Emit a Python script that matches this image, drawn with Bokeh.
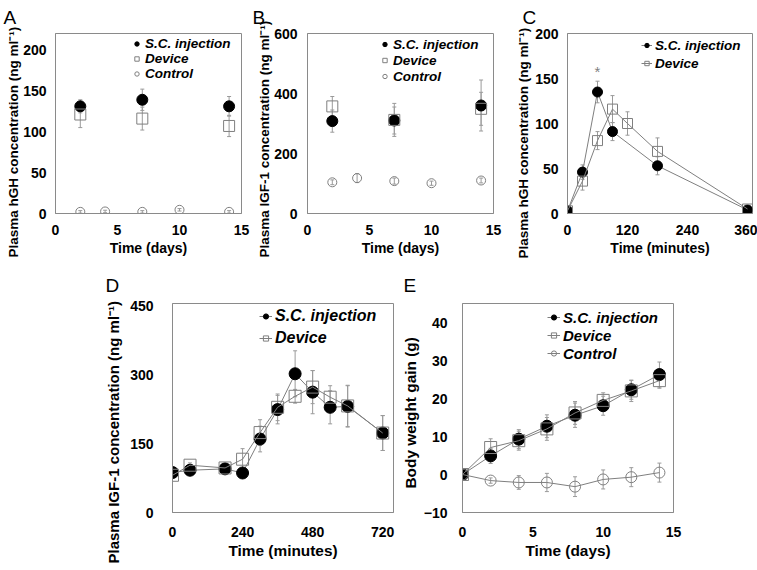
from bokeh.plotting import figure
from bokeh.models import (Range1d, FixedTicker, Legend, LegendItem, Whisker, TeeHead,
                          ColumnDataSource, Title)
from bokeh.layouts import column, row
from bokeh.embed import file_html
from bokeh.resources import INLINE
from bokeh.core.properties import value

FONT = "Liberation Sans"
GRAY = "#7f7f7f"
ERR = "#9a9a9a"
FRAME = "#8a8a8a"

# ---------------- data ----------------
series_names = ["S.C. injection", "Device", "Control"]

# Panel A: plasma hGH, days
a_sc_x = [2, 7, 14]
a_sc_y = [131, 139, 131]
a_sc_err = [8, 13, 12]
a_dev_x = [2, 7, 14]
a_dev_y = [121, 116, 107]
a_dev_err = [16, 14, 13]
a_ctl_x = [2, 4, 7, 10, 14]
a_ctl_y = [2, 2.5, 2, 4.5, 2]
a_ctl_err = [1.5, 1.5, 1.5, 1.5, 1.5]

# Panel B: plasma IGF-1, days
b_sc_x = [2, 7, 14]
b_sc_y = [308, 310, 360]
b_sc_err = [37, 45, 85]
b_dev_x = [2, 7, 14]
b_dev_y = [357, 312, 349]
b_dev_err = [33, 55, 55]
b_ctl_x = [2, 4, 7, 10, 14]
b_ctl_y = [104, 118, 108, 101, 110]
b_ctl_err = [8, 15, 10, 7, 8]

# Panel C: plasma hGH, minutes
c_sc_x = [0, 30, 60, 90, 180, 360]
c_sc_y = [3, 46, 135, 91, 53, 4]
c_sc_err = [2, 8, 12, 10, 10, 3]
c_dev_x = [0, 30, 60, 90, 120, 180, 360]
c_dev_y = [3, 36, 81, 116, 100, 69, 5]
c_dev_err = [2, 10, 10, 15, 13, 15, 3]
c_star_x = [60]
c_star_y = [158]
c_star_text = ["*"]

# Panel D: plasma IGF-1, minutes
d_x = [0, 60, 180, 240, 300, 360, 420, 480, 540, 600, 720]
d_sc_y = [87, 92, 95, 86, 160, 224, 302, 262, 229, 231, 173]
d_sc_err = [5, 8, 8, 5, 28, 31, 50, 47, 36, 45, 38]
d_dev_y = [81, 103, 97, 116, 174, 229, 253, 273, 251, 232, 173]
d_dev_err = [5, 5, 7, 23, 28, 29, 15, 36, 25, 45, 38]

# Panel E: body weight gain, days
e_x = [0, 2, 4, 6, 8, 10, 12, 14]
e_sc_y = [0, 4.9, 9.3, 12.7, 15.6, 18.1, 22.3, 26.3]
e_sc_err = [0.5, 2, 2.5, 3, 3.2, 2.5, 2.5, 3.3]
e_dev_y = [0, 7.1, 8.9, 12.0, 16.2, 19.5, 22.0, 24.7]
e_dev_err = [0.5, 2.3, 2.5, 3, 3, 2, 2.8, 2]
e_ctl_y = [0, -1.6, -2.1, -2.1, -3.2, -1.3, -0.7, 0.5]
e_ctl_err = [0.5, 0.7, 1.8, 2.4, 2.6, 2.5, 2.5, 2.5]


def make_fig(w, h, bl, br, bt, bb, xr, yr, xt, yt, letter, loff, lst,
             tick_px, xlab_px, ylab_px, xlab, ylab, ytick_st, xtick_st, xlab_st, ylab_off, ylab_st):
    p = figure(width=w, height=h, x_range=Range1d(*xr), y_range=Range1d(*yr),
               output_backend="svg", toolbar_location=None,
               min_border_left=bl, min_border_right=br,
               min_border_top=bt, min_border_bottom=bb)
    p.title.text = letter
    p.title.text_font = FONT
    p.title.text_font_size = "19px"
    p.title.text_font_style = "normal"
    p.title.text_color = "#000000"
    p.title.align = "left"
    p.title.vertical_align = "top"
    p.title.offset = loff
    p.title.standoff = lst
    p.outline_line_color = FRAME
    p.outline_line_width = 1
    p.grid.visible = False
    p.background_fill_color = "white"
    p.border_fill_color = "white"
    for ax, ticks, tst in ((p.xaxis[0], xt, xtick_st), (p.yaxis[0], yt, ytick_st)):
        ax.ticker = FixedTicker(ticks=ticks)
        ax.major_tick_in = 0
        ax.major_tick_out = 0
        ax.minor_tick_line_color = None
        ax.axis_line_color = FRAME
        ax.major_label_text_font = FONT
        ax.major_label_text_font_style = "bold"
        ax.major_label_text_font_size = tick_px
        ax.major_label_text_color = "#000000"
        ax.major_label_standoff = tst
    xa = p.xaxis[0]
    xa.axis_label = xlab
    xa.axis_label_text_font = FONT
    xa.axis_label_text_font_style = "bold"
    xa.axis_label_text_font_size = xlab_px
    xa.axis_label_text_color = "#000000"
    xa.axis_label_standoff = xlab_st
    p.yaxis[0].major_label_orientation = "horizontal"
    # y-axis title: a side title, shifted along the axis like the original
    yt_title = Title(text=ylab, align="left", offset=ylab_off, standoff=ylab_st,
                     text_font=FONT, text_font_style="bold", text_font_size=ylab_px,
                     text_color="#000000")
    p.add_layout(yt_title, "left")
    return p


def errbars(p, xs, ys, errs, head=4):
    src = ColumnDataSource(dict(x=xs, up=[y + e for y, e in zip(ys, errs)],
                                lo=[y - e for y, e in zip(ys, errs)]))
    w = Whisker(source=src, base="x", upper="up", lower="lo",
                line_color=ERR, line_width=1,
                upper_head=TeeHead(size=head, line_color=ERR, line_width=1),
                lower_head=TeeHead(size=head, line_color=ERR, line_width=1))
    p.add_layout(w)


def add_series(p, xs, ys, errs, kind, size, with_line):
    errbars(p, xs, ys, errs)
    rs = []
    if with_line:
        rs.append(p.line(xs, ys, line_color=GRAY, line_width=1))
    if kind == "sc":
        rs.append(p.scatter(xs, ys, marker="circle", size=size, fill_color="black",
                            line_color="black"))
    elif kind == "dev":
        rs.append(p.scatter(xs, ys, marker="square", size=size, fill_alpha=0,
                            line_color=GRAY, line_width=1))
    else:
        rs.append(p.scatter(xs, ys, marker="circle", size=size, fill_alpha=0,
                            line_color=GRAY, line_width=1))
    return rs


def add_legend(p, items, loc, lab_px, row_h, gw):
    leg = Legend(items=[LegendItem(label=n, renderers=r) for n, r in items],
                 location=loc, label_text_font=FONT, label_text_font_style="bold italic",
                 label_text_font_size=lab_px, label_text_color="#000000",
                 glyph_width=gw, glyph_height=row_h, label_height=row_h,
                 label_standoff=3, spacing=0, padding=0, margin=0,
                 border_line_color=None, background_fill_alpha=0)
    p.add_layout(leg)


HGH = "Plasma hGH concentration (ng ml\u207b\u00b9)"
IGF = "Plasma IGF-1 concentration (ng ml\u207b\u00b9)"

# ---------------- Panel A ----------------
pA = make_fig(250, 266, 55, 9, 33, 53, (0, 15), (0, 220), [0, 5, 10, 15], [0, 50, 100, 150, 200],
              "A", -52, 7, "14px", "14px", "13.5px", "Time (days)", HGH, 9, 11, 2, -44, 0)
rA1 = add_series(pA, a_sc_x, a_sc_y, a_sc_err, "sc", 11, False)
rA2 = add_series(pA, a_dev_x, a_dev_y, a_dev_err, "dev", 11, False)
rA3 = add_series(pA, a_ctl_x, a_ctl_y, a_ctl_err, "ctl", 9, False)
add_legend(pA, list(zip(series_names, [rA1, rA2, rA3])), (76, 132), "13.5px", 15, 11)

# ---------------- Panel B ----------------
pB = make_fig(257, 266, 57, 14, 33, 53, (0, 15), (0, 600), [0, 5, 10, 15], [0, 200, 400, 600],
              "B", -55, 7, "14px", "14px", "13.5px", "Time (days)", IGF, 10, 11, 2, -44, 0)
rB1 = add_series(pB, b_sc_x, b_sc_y, b_sc_err, "sc", 11, False)
rB2 = add_series(pB, b_dev_x, b_dev_y, b_dev_err, "dev", 11, False)
rB3 = add_series(pB, b_ctl_x, b_ctl_y, b_ctl_err, "ctl", 9, False)
add_legend(pB, list(zip(series_names, [rB1, rB2, rB3])), (72, 129), "13.5px", 16, 11)

# ---------------- Panel C ----------------
pC = make_fig(250, 266, 60, 5, 33, 53, (0, 370), (0, 200), [0, 120, 240, 360], [0, 50, 100, 150, 200],
              "C", -45, 7, "14px", "14px", "13.5px", "Time (minutes)", HGH, 9, 11, 2, -45, 4)
rC1 = add_series(pC, c_sc_x, c_sc_y, c_sc_err, "sc", 10, True)
rC2 = add_series(pC, c_dev_x, c_dev_y, c_dev_err, "dev", 10, True)
pC.text(c_star_x, c_star_y, text=c_star_text, text_align="center", text_baseline="middle",
        text_color=GRAY, text_font=value(FONT), text_font_size="15px")
add_legend(pC, list(zip(series_names[:2], [rC1, rC2])), (74, 141), "13.5px", 18, 11)

# ---------------- Panel D ----------------
pD = make_fig(395, 304, 172, 2, 37, 58, (0, 757), (0, 455), [0, 240, 480, 720], [0, 150, 300, 450],
              "D", -67, 11, "14px", "15.4px", "15px", "Time (minutes)", IGF, 19, 14, 2, -51, 12)
rD1 = add_series(pD, d_x, d_sc_y, d_sc_err, "sc", 12, True)
rD2 = add_series(pD, d_x, d_dev_y, d_dev_err, "dev", 12, True)
add_legend(pD, list(zip(series_names[:2], [rD1, rD2])), (87, 163), "16px", 22, 13)

# ---------------- Panel E ----------------
pE = make_fig(362, 304, 67, 84, 37, 58, (0, 15), (-10, 45), [0, 5, 10, 15], [-10, 0, 10, 20, 30, 40],
              "E", -59, 11, "14px", "15.4px", "15.4px", "Time (days)", "Body weight gain (g)",
              15, 14, 2, 24, 4)
rE1 = add_series(pE, e_x, e_sc_y, e_sc_err, "sc", 12, True)
rE2 = add_series(pE, e_x, e_dev_y, e_dev_err, "dev", 12, True)
rE3 = add_series(pE, e_x, e_ctl_y, e_ctl_err, "ctl", 11, True)
add_legend(pE, list(zip(series_names, [rE1, rE2, rE3])), (85, 150), "15px", 18, 13)

layout = column(row(pA, pB, pC), row(pD, pE))
open("out.html", "w").write(file_html(layout, INLINE))
